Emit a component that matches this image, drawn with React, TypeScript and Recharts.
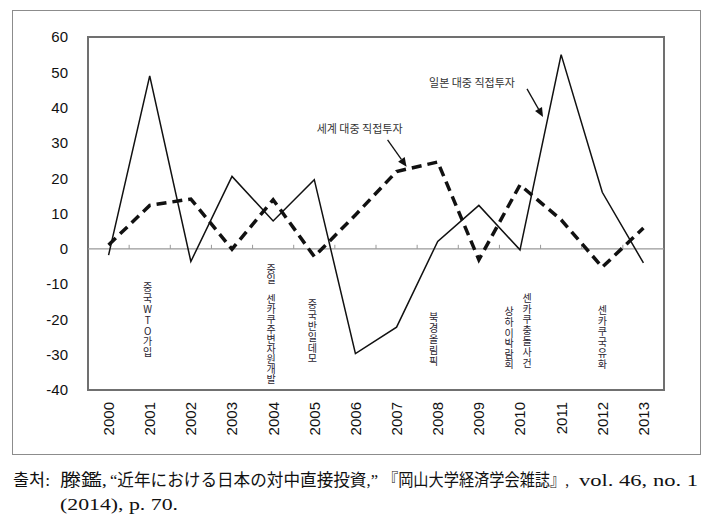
import React from "react";
import {
  LineChart,
  Line,
  XAxis,
  YAxis,
  ReferenceArea,
  ReferenceLine,
  ReferenceDot,
} from "recharts";

// 연도별 대중 직접투자 증가율 (%)
const years = ["2000", "2001", "2002", "2003", "2004", "2005", "2006", "2007", "2008", "2009", "2010", "2011", "2012", "2013"];
const japanFdi = [-1.8, 49, -3.6, 20.5, 7.9, 19.6, -29.7, -22.2, 2.1, 12.3, -0.3, 55, 16, -4];
const worldFdi = [1.1, 12.3, 14.1, -0.1, 13.9, -2.2, 9.6, 21.9, 24.6, -3.1, 18.1, 8.2, -5.2, 5.9];
const yTicks = [-40, -30, -20, -10, 0, 10, 20, 30, 40, 50, 60];

const events = [
  { year: "2001", text: "중국WTO가입" },
  { year: "2004", text: "중일 센카쿠주변자원개발" },
  { year: "2005", text: "중국반일데모" },
  { year: "2008", text: "북경올림픽" },
  { year: "2010", text: "상하이박람회" },
  { year: "2010", text: "센카쿠충돌사건" },
  { year: "2012", text: "센카쿠국유화" },
];

// where each event label starts (top, in y units), its sideways nudge and letter gap in px
const eventPlacement = [
  { top: -9.6, dx: -2, gap: 0.8 },
  { top: -4.5, dx: -2, gap: 0 },
  { top: -14.4, dx: -2, gap: 0.8 },
  { top: -18.1, dx: -4, gap: 0.8 },
  { top: -16.4, dx: -11, gap: 0.6 },
  { top: -12.5, dx: 7, gap: 0.8 },
  { top: -15.9, dx: 0, gap: 0.8 },
];

// source line, split into pieces so each can be fitted to the original's width
const sourceLine1 = ["출처:", "滕鑑,", "“近年における日本の対中直接投資,”", "『岡山大学経済学会雑誌』,", "vol. 46, no. 1"];
const sourceLine2 = ["(2014), p. 70."];
const sourceLayout1 = [
  { x: 5, w: 37 },
  { x: 52, w: 47 },
  { x: 102, w: 268 },
  { x: 375, w: 186 },
  { x: 571, w: 119 },
];
const sourceLayout2 = [{ x: 52, w: 118 }];

const data = years.map((year, i) => ({
  year,
  japan: japanFdi[i],
  world: worldFdi[i],
}));

const korFont = "'Noto Sans CJK KR', 'Liberation Sans', sans-serif";
const srcFont = "'Liberation Serif', 'Noto Sans CJK JP', serif";

function VerticalLabel({ cx, cy, text, gap }: any) {
  return (
    <text
      x={cx}
      y={cy}
      fontFamily={korFont}
      fontSize={10}
      fill="#2a2430"
      style={{ writingMode: "vertical-rl", textOrientation: "upright", letterSpacing: gap } as any}
    >
      {text}
    </text>
  );
}

function Arrow({ x1, y1, x2, y2 }: any) {
  const ang = Math.atan2(y2 - y1, x2 - x1);
  const len = 9;
  const half = 4;
  const bx = x2 - len * Math.cos(ang);
  const by = y2 - len * Math.sin(ang);
  const px = -Math.sin(ang) * half;
  const py = Math.cos(ang) * half;
  return (
    <g>
      <line x1={x1} y1={y1} x2={bx} y2={by} stroke="#111" strokeWidth={1.3} />
      <polygon points={`${x2},${y2} ${bx + px},${by + py} ${bx - px},${by - py}`} fill="#111" />
    </g>
  );
}

function SeriesNote({ cx, cy, text, tx, ax1, ay1, ax2, ay2 }: any) {
  return (
    <g>
      <text x={cx + tx} y={cy + 4} fontFamily={korFont} fontSize={11} fill="#333" textAnchor="middle">
        {text}
      </text>
      <Arrow x1={cx + ax1} y1={cy + ay1} x2={cx + ax2} y2={cy + ay2} />
    </g>
  );
}

function ZeroLine(props: any) {
  const { x1, x2, y1 } = props;
  const n = years.length;
  const step = (x2 - x1) / n;
  const marks = [];
  for (let i = 1; i < n; i++) {
    const x = x1 + step * i;
    marks.push(<line key={i} x1={x} x2={x} y1={y1 - 4} y2={y1} stroke="#999" strokeWidth={1} />);
  }
  return (
    <g>
      <line x1={x1} x2={x2} y1={y1} y2={y1} stroke="#999" strokeWidth={1.2} />
      {marks}
    </g>
  );
}

function YearTick({ x, y, payload }: any) {
  return (
    <text
      x={x}
      y={y + 4}
      transform={`rotate(-90, ${x}, ${y + 4})`}
      textAnchor="end"
      dy="0.36em"
      fontFamily="'Liberation Sans', Arial, sans-serif"
      fontSize={15}
      fill="#111"
    >
      {payload.value}
    </text>
  );
}

export default function App() {
  return (
    <div>
      <div
        style={{
          width: 689,
          height: 445,
          marginLeft: 4,
          marginTop: 2,
          border: "1px solid #8c8c8c",
          boxSizing: "border-box",
        }}
      >
        <LineChart width={687} height={443} data={data} margin={{ top: 26, right: 36, left: 0, bottom: 0 }}>
          <XAxis
            dataKey="year"
            scale="band"
            interval={0}
            tickLine={false}
            axisLine={false}
            height={64}
            tick={<YearTick />}
          />
          <YAxis
            domain={[-40, 60]}
            ticks={yTicks}
            width={75}
            tickLine={false}
            axisLine={false}
            tickSize={6}
            tickMargin={14}
            tick={{ fontSize: 15, fill: "#111", fontFamily: "'Liberation Sans', Arial, sans-serif" }}
          />
          <ReferenceArea y1={-40} y2={60} fill="none" stroke="#707070" strokeWidth={2} />
          <ReferenceLine y={0} shape={<ZeroLine />} />
          <Line
            dataKey="world"
            type="linear"
            stroke="#111"
            strokeWidth={3.5}
            strokeDasharray="10 6"
            dot={false}
            isAnimationActive={false}
          />
          <Line dataKey="japan" type="linear" stroke="#111" strokeWidth={1.5} dot={false} isAnimationActive={false} />
          {events.map((ev, i) => (
            <ReferenceDot
              key={ev.text}
              x={ev.year}
              y={eventPlacement[i].top}
              shape={(p: any) => (
                <VerticalLabel cx={p.cx + eventPlacement[i].dx} cy={p.cy} text={ev.text} gap={eventPlacement[i].gap} />
              )}
            />
          ))}
          <ReferenceDot
            x="2007"
            y={34}
            shape={(p: any) => (
              <SeriesNote cx={p.cx} cy={p.cy} text="세계 대중 직접투자" tx={-37} ax1={-9} ay1={11} ax2={10} ay2={38} />
            )}
          />
          <ReferenceDot
            x="2010"
            y={47}
            shape={(p: any) => (
              <SeriesNote cx={p.cx} cy={p.cy} text="일본 대중 직접투자" tx={-48} ax1={7} ay1={6} ax2={23} ay2={34} />
            )}
          />
        </LineChart>
      </div>
      <svg width={716} height={69} style={{ display: "block" }}>
        {sourceLine1.map((s, i) => (
          <text
            key={s}
            x={sourceLayout1[i].x}
            y={31}
            textLength={sourceLayout1[i].w}
            lengthAdjust="spacingAndGlyphs"
            fontFamily={srcFont}
            fontSize={17}
            fill="#111"
          >
            {s}
          </text>
        ))}
        {sourceLine2.map((s, i) => (
          <text
            key={s}
            x={sourceLayout2[i].x}
            y={55}
            textLength={sourceLayout2[i].w}
            lengthAdjust="spacingAndGlyphs"
            fontFamily={srcFont}
            fontSize={17}
            fill="#111"
          >
            {s}
          </text>
        ))}
      </svg>
    </div>
  );
}
